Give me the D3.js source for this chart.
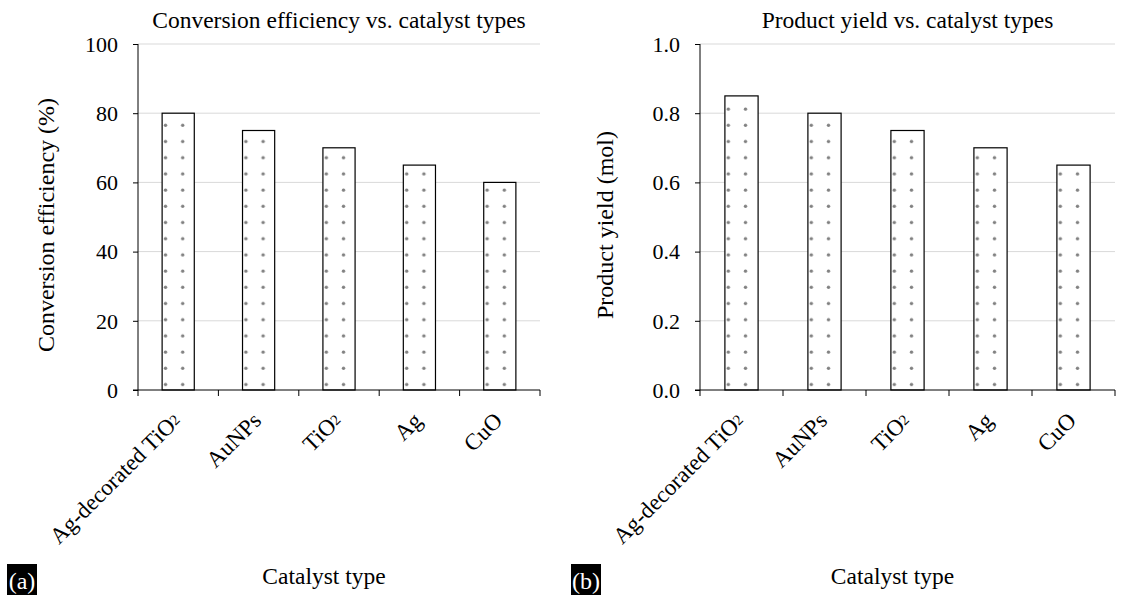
<!DOCTYPE html>
<html>
<head>
<meta charset="utf-8">
<script src="https://cdn.jsdelivr.net/npm/d3@7"></script>
<style>
  body { margin: 0; background: #fff; }
  text { font-family: "Liberation Serif", "Times New Roman", serif; fill: #000; }
</style>
</head>
<body>
<div id="chart"></div>
<script>
// catalyst data
const categories = ["Ag-decorated TiO2", "AuNPs", "TiO2", "Ag", "CuO"];
const efficiency = [80, 75, 70, 65, 60];
const productYield = [0.85, 0.80, 0.75, 0.70, 0.65];
const effTicks = [0, 20, 40, 60, 80, 100];
const yieldTicks = [0, 0.2, 0.4, 0.6, 0.8, 1.0];

const width = 1136;
const height = 595;

const svg = d3.select("#chart")
    .append("svg")
    .attr("width", width)
    .attr("height", height);

const defs = svg.append("defs");

const panels = [
    {
        id: "a", left: 138, right: 540, top: 44, bottom: 390,
        title: "Conversion efficiency vs. catalyst types",
        ylabel: "Conversion efficiency (%)", ylabelX: 54,
        values: efficiency, max: 100, ticks: effTicks, fmt: d3.format("d"),
        boxX: 7
    },
    {
        id: "b", left: 700, right: 1115, top: 44, bottom: 390,
        title: "Product yield vs. catalyst types",
        ylabel: "Product yield (mol)", ylabelX: 613,
        values: productYield, max: 1.0, ticks: yieldTicks, fmt: d3.format(".1f"),
        boxX: 571
    }
];

// draw a label with a small 2 for TiO2
function writeLabel(sel, label) {
    const m = label.match(/^(.*TiO)2$/);
    if (m) {
        sel.append("tspan").text(m[1]);
        sel.append("tspan").attr("font-size", "15px").attr("dy", -2).text("2");
    } else {
        sel.text(label);
    }
}

panels.forEach(p => {
    const g = svg.append("g");

    const x = d3.scaleBand()
        .domain(categories)
        .range([p.left, p.right]);

    const y = d3.scaleLinear()
        .domain([0, p.max])
        .range([p.bottom, p.top]);

    const barW = x.bandwidth() * 0.4;

    // gridlines
    g.selectAll(".grid")
        .data(p.ticks.slice(1))
        .enter()
        .append("line")
        .attr("x1", p.left)
        .attr("x2", p.right)
        .attr("y1", d => y(d))
        .attr("y2", d => y(d))
        .attr("stroke", "#d9d9d9")
        .attr("stroke-width", 1);

    // dot patterns, one per bar so the dots line up with each bar
    categories.forEach((c, i) => {
        const pat = defs.append("pattern")
            .attr("id", `dots-${p.id}-${i}`)
            .attr("patternUnits", "userSpaceOnUse")
            .attr("x", x(c) + (x.bandwidth() - barW) / 2)
            .attr("y", p.bottom)
            .attr("width", 17.2)
            .attr("height", 16.2);
        pat.append("rect")
            .attr("width", 17.2)
            .attr("height", 16.2)
            .attr("fill", "#fff");
        pat.append("circle")
            .attr("cx", 3.4)
            .attr("cy", 10.7)
            .attr("r", 1.7)
            .attr("fill", "#808080");
    });

    // bars
    g.selectAll(".bar")
        .data(p.values)
        .enter()
        .append("rect")
        .attr("x", (d, i) => x(categories[i]) + (x.bandwidth() - barW) / 2)
        .attr("y", d => y(d))
        .attr("width", barW)
        .attr("height", d => p.bottom - y(d))
        .attr("fill", (d, i) => `url(#dots-${p.id}-${i})`)
        .attr("stroke", "#000")
        .attr("stroke-width", 1.2);

    // y axis
    const yAxis = g.append("g")
        .attr("transform", `translate(${p.left},0)`)
        .call(d3.axisLeft(y).tickValues(p.ticks).tickFormat(p.fmt).tickSize(5).tickPadding(15));
    yAxis.select(".domain").attr("stroke", "#000").attr("d", `M0,${p.top}V${p.bottom}`);
    yAxis.selectAll(".tick line").attr("stroke", "#000");
    yAxis.selectAll(".tick text")
        .attr("font-family", "Liberation Serif")
        .attr("font-size", "22px")
        .attr("dy", "0.33em");

    // x axis
    const xAxis = g.append("g")
        .attr("transform", `translate(0,${p.bottom})`);
    xAxis.append("line")
        .attr("x1", p.left - 5)
        .attr("x2", p.right)
        .attr("stroke", "#000");
    xAxis.selectAll(".xtick")
        .data([...categories.map(c => x(c)), p.right])
        .enter()
        .append("line")
        .attr("x1", d => d)
        .attr("x2", d => d)
        .attr("y1", 0)
        .attr("y2", 6)
        .attr("stroke", "#000");
    xAxis.selectAll(".xlabel")
        .data(categories)
        .enter()
        .append("text")
        .attr("transform", d => `translate(${x(d) + x.bandwidth() / 2 + 4},32) rotate(-45)`)
        .attr("text-anchor", "end")
        .attr("font-size", "23px")
        .each(function (d) { writeLabel(d3.select(this), d); });

    // titles
    g.append("text")
        .attr("x", (p.left + p.right) / 2)
        .attr("y", 28)
        .attr("text-anchor", "middle")
        .attr("font-size", "23.5px")
        .text(p.title);

    g.append("text")
        .attr("transform", `translate(${p.ylabelX},${(p.top + p.bottom) / 2 + 8}) rotate(-90)`)
        .attr("text-anchor", "middle")
        .attr("font-size", "24px")
        .text(p.ylabel);

    g.append("text")
        .attr("x", (p.left + p.right) / 2 - 15)
        .attr("y", 584)
        .attr("text-anchor", "middle")
        .attr("font-size", "23.5px")
        .text("Catalyst type");

    // panel letter
    g.append("rect")
        .attr("x", p.boxX)
        .attr("y", 564)
        .attr("width", 30)
        .attr("height", 31)
        .attr("fill", "#000");
    g.append("text")
        .attr("x", p.boxX + 15)
        .attr("y", 589)
        .attr("text-anchor", "middle")
        .attr("font-size", "24px")
        .style("fill", "#fff")
        .text(`(${p.id})`);
});
</script>
</body>
</html>
